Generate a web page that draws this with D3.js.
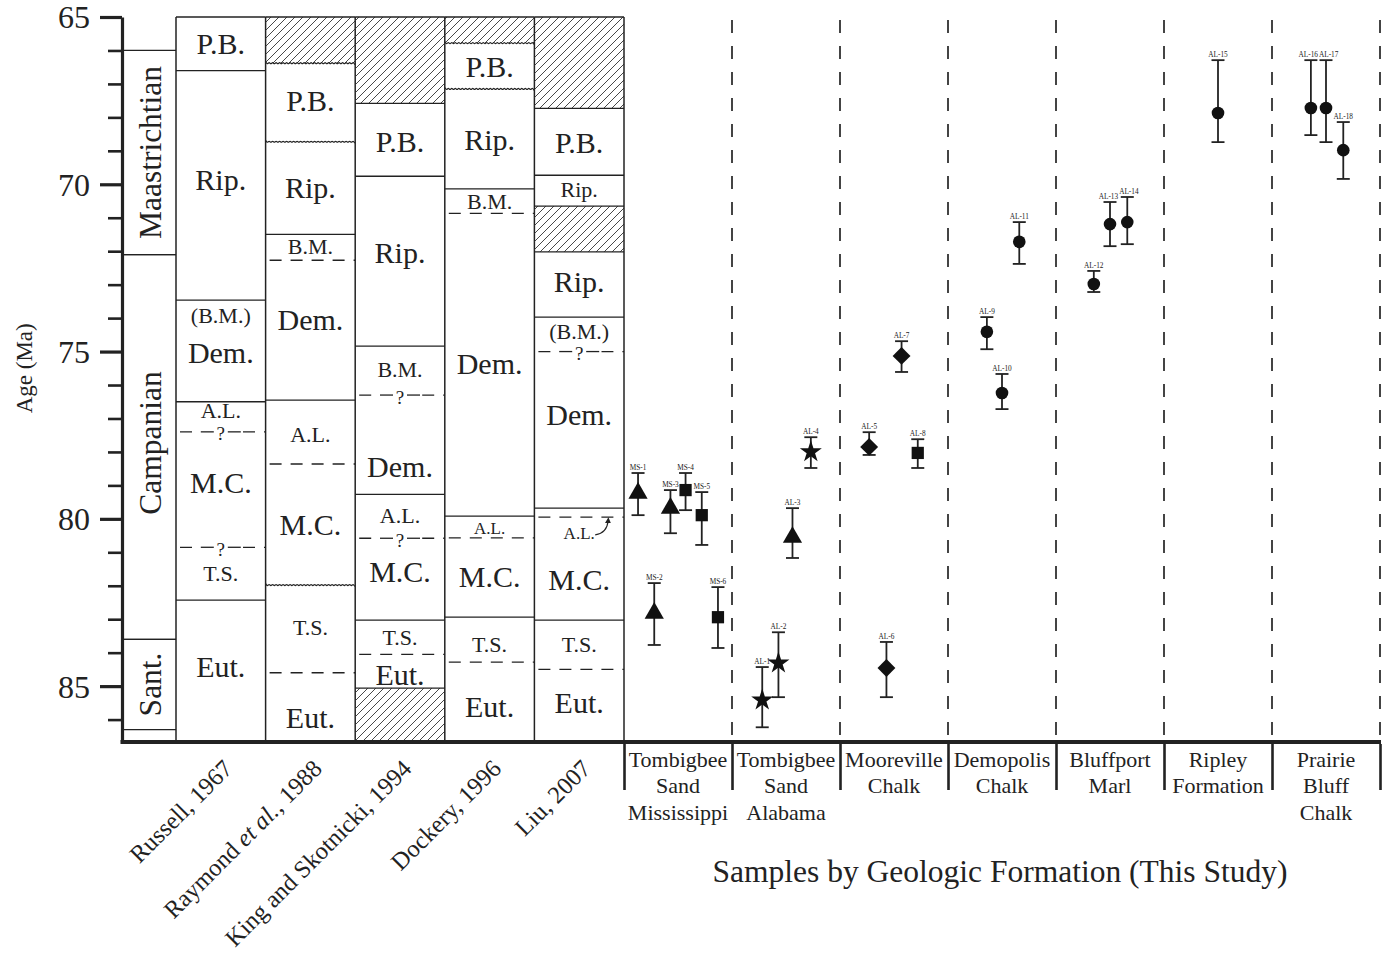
<!DOCTYPE html>
<html><head><meta charset="utf-8">
<script src="https://cdn.jsdelivr.net/npm/d3@7"></script>
<style>
body{margin:0;background:#fff}
svg{display:block}
text{font-family:"Liberation Serif","Times New Roman",serif;fill:#222}
</style>
</head><body>
<svg id="chart" width="1388" height="955"></svg>
<script>
// ---------------- DATA ----------------
const ageTicks = d3.range(65, 87);
const majorTicks = [65, 70, 75, 80, 85];
const ageDomain = [65, 86.67];

const stageNames = ["Maastrichtian", "Campanian", "Sant."];
const stageTops  = [66.0, 72.1, 83.6];
const stageBases = [72.1, 83.6, 86.3];

const references = ["Russell, 1967", "Raymond et al., 1988", "King and Skotnicki, 1994", "Dockery, 1996", "Liu, 2007"];

// contacts: [age, type]   labels: [text, age, rank]   hatch: [top, base]
const russellContacts = [[66.6,"solid"],[73.46,"solid"],[76.5,"solid"],[77.4,"query"],[80.85,"query"],[82.43,"solid"]];
const russellLabels = [["P.B.",65.81,1],["Rip.",69.87,1],["(B.M.)",73.91,2],["Dem.",75.04,1],["A.L.",76.76,2],["M.C.",78.93,1],["T.S.",81.62,2],["Eut.",84.43,1]];
const russellHatch = [];

const raymondContacts = [[66.38,"wavy"],[68.73,"wavy"],[71.5,"solid"],[72.27,"dashed"],[76.45,"solid"],[78.36,"dashed"],[81.98,"wavy"],[84.6,"dashed"]];
const raymondLabels = [["P.B.",67.51,1],["Rip.",70.11,1],["B.M.",71.87,2],["Dem.",74.06,1],["A.L.",77.49,2],["M.C.",80.18,1],["T.S.",83.26,2],["Eut.",85.95,1]];
const raymondHatch = [[65,66.38]];

const kingContacts = [[67.58,"solid"],[69.76,"solid"],[74.84,"solid"],[76.3,"query"],[79.27,"solid"],[80.58,"query"],[83.03,"solid"],[84.05,"dashed"],[85.06,"solid"]];
const kingLabels = [["P.B.",68.74,1],["Rip.",72.05,1],["B.M.",75.55,2],["Dem.",78.45,1],["A.L.",79.91,2],["M.C.",81.59,1],["T.S.",83.56,2],["Eut.",84.67,1]];
const kingHatch = [[65,67.58],[85.06,86.67]];

const dockeryContacts = [[65.78,"wavy"],[67.15,"wavy"],[70.14,"solid"],[70.87,"dashed"],[79.92,"solid"],[80.57,"dashed"],[82.94,"solid"],[84.28,"dashed"]];
const dockeryLabels = [["P.B.",66.49,1],["Rip.",68.68,1],["B.M.",70.53,2],["Dem.",75.37,1],["A.L.",80.27,3],["M.C.",81.74,1],["T.S.",83.77,2],["Eut.",85.62,1]];
const dockeryHatch = [[65,65.78]];

const liuContacts = [[67.73,"solid"],[69.73,"solid"],[70.65,"solid"],[72.02,"solid"],[73.97,"solid"],[75.0,"query"],[79.68,"solid"],[79.95,"dashed"],[83.03,"solid"],[84.5,"dashed"]];
const liuLabels = [["P.B.",68.77,1],["Rip.",70.17,2],["Rip.",72.92,1],["(B.M.)",74.41,2],["Dem.",76.9,1],["A.L.",80.42,3],["M.C.",81.83,1],["T.S.",83.77,2],["Eut.",85.5,1]];
const liuHatch = [[65,67.73],[70.65,72.02]];

const formations = [["Tombigbee","Sand","Mississippi"],["Tombigbee","Sand","Alabama"],["Mooreville","Chalk"],["Demopolis","Chalk"],["Bluffport","Marl"],["Ripley","Formation"],["Prairie","Bluff","Chalk"]];

const sampleIds = ["MS-1","MS-2","MS-3","MS-4","MS-5","MS-6","AL-1","AL-2","AL-3","AL-4","AL-5","AL-6","AL-7","AL-8","AL-9","AL-10","AL-11","AL-12","AL-13","AL-14","AL-15","AL-16","AL-17","AL-18"];
const sampleFormation = [0,0,0,0,0,0,1,1,1,1,2,2,2,2,3,3,3,4,4,4,5,6,6,6];
const samplePosition  = [0.13,0.28,0.43,0.57,0.72,0.87, 0.28,0.43,0.56,0.73, 0.27,0.43,0.57,0.72, 0.36,0.5,0.66, 0.35,0.5,0.66, 0.5, 0.36,0.5,0.66];
const sampleAge = [79.23,82.82,79.68,79.14,79.89,82.94, 85.42,84.31,80.55,78.0, 77.85,84.46,75.13,78.03, 74.41,76.24,71.72, 72.98,71.19,71.13, 67.87, 67.72,67.72,68.98];
const sampleAgeMin = [78.63,81.92,79.14,78.63,79.2,82.04, 84.43,83.39,79.68,77.56, 77.41,83.68,74.69,77.62, 73.97,75.67,71.13, 72.59,70.53,70.38, 66.29, 66.29,66.29,68.14];
const sampleAgeMax = [79.89,83.77,80.43,79.74,80.78,83.86, 86.23,85.33,81.17,78.48, 78.09,85.33,75.61,78.48, 74.93,76.72,72.38, 73.22,71.85,71.79, 68.74, 68.53,68.74,69.84];
const sampleShape = ["triangle","triangle","triangle","square","square","square","star","star","triangle","star","diamond","diamond","diamond","square","circle","circle","circle","circle","circle","circle","circle","circle","circle","circle"];

// ---------------- DRAW ----------------
const svg = d3.select("#chart");
const ink = "#222";
const y = d3.scaleLinear().domain(ageDomain).range([17, 742]);
const xRef = d3.scaleBand().domain(references).range([176, 624]);
const xF = d3.scaleLinear().domain([0, formations.length]).range([624, 1380]);
const stageX0 = 122, stageX1 = 176;

const defs = svg.append("defs");
const pat = defs.append("pattern").attr("id","hatch").attr("patternUnits","userSpaceOnUse")
  .attr("width",8).attr("height",8);
pat.append("path").attr("d","M-2,2 l4,-4 M0,8 l8,-8 M6,10 l4,-4")
  .attr("stroke","#333").attr("stroke-width",0.9);
defs.append("marker").attr("id","arr").attr("viewBox","0 0 10 10").attr("refX",5).attr("refY",5)
  .attr("markerWidth",5).attr("markerHeight",5).attr("orient","auto")
  .append("path").attr("d","M0,0 L10,5 L0,10 z").attr("fill",ink);

// stage column
const stg = svg.append("g");
stageNames.forEach((n,i)=>{
  [stageTops[i], stageBases[i]].forEach(a=>{
    stg.append("line").attr("x1",stageX0).attr("x2",stageX1).attr("y1",y(a)).attr("y2",y(a))
      .attr("stroke",ink).attr("stroke-width",1.3);
  });
  const mid = (stageTops[i]+stageBases[i])/2;
  stg.append("text").attr("transform",`translate(${(stageX0+stageX1)/2+2},${y(mid)-(i===1?4:0)}) rotate(-90)`)
    .attr("text-anchor","middle").attr("dy","0.32em").style("font-size","31.5px").text(n);
});
stg.append("line").attr("x1",stageX1).attr("x2",stageX1).attr("y1",y(65)).attr("y2",y(ageDomain[1]))
  .attr("stroke",ink).attr("stroke-width",1.5);

// reference columns
const refData = [
  [russellContacts, russellLabels, russellHatch],
  [raymondContacts, raymondLabels, raymondHatch],
  [kingContacts, kingLabels, kingHatch],
  [dockeryContacts, dockeryLabels, dockeryHatch],
  [liuContacts, liuLabels, liuHatch]
];
const bw = xRef.bandwidth();
const labelSize = {1:"30px", 2:"22px", 3:"17px"};
const wavyLine = d3.line().curve(d3.curveBasis);

references.forEach((r,i)=>{
  const [contacts, labels, hatch] = refData[i];
  const x0 = xRef(r), x1 = x0 + bw, cx = x0 + bw/2;
  const g = svg.append("g");
  hatch.forEach(h=>{
    g.append("rect").attr("x",x0).attr("y",y(h[0])).attr("width",bw).attr("height",y(h[1])-y(h[0]))
      .attr("fill","url(#hatch)");
  });
  contacts.forEach(([a,type])=>{
    const yy = y(a);
    if (type==="solid"){
      g.append("line").attr("x1",x0).attr("x2",x1).attr("y1",yy).attr("y2",yy).attr("stroke",ink).attr("stroke-width",1.3);
    } else if (type==="wavy"){
      const pts = d3.range(x0, x1+0.1, 1.75).map((x,k)=>[x, yy + (k%2===0?-1.4:1.4)]);
      g.append("path").attr("d",wavyLine(pts)).attr("fill","none").attr("stroke",ink).attr("stroke-width",1.2);
    } else {
      g.append("line").attr("x1",x0).attr("x2",x1).attr("y1",yy).attr("y2",yy).attr("stroke",ink)
        .attr("stroke-width",1.3).attr("stroke-dasharray","12,9").attr("stroke-dashoffset",-4);
      if (type==="query"){
        g.append("rect").attr("x",cx-22).attr("y",yy-3).attr("width",44).attr("height",6).attr("fill","#fff");
        g.append("line").attr("x1",cx-20).attr("x2",cx-7).attr("y1",yy).attr("y2",yy).attr("stroke",ink).attr("stroke-width",1.3);
        g.append("line").attr("x1",cx+7).attr("x2",cx+20).attr("y1",yy).attr("y2",yy).attr("stroke",ink).attr("stroke-width",1.3);
        g.append("text").attr("x",cx).attr("y",yy).attr("dy","0.45em").attr("text-anchor","middle")
          .style("font-size","19px").text("?");
      }
    }
  });
  labels.forEach(([t,a,rank])=>{
    g.append("text").attr("x",cx).attr("y",y(a)).attr("dy","0.34em").attr("text-anchor","middle")
      .style("font-size",labelSize[rank]).text(t);
  });
  // column frame
  g.append("line").attr("x1",x0).attr("x2",x1).attr("y1",y(65)).attr("y2",y(65)).attr("stroke",ink).attr("stroke-width",1.5);
  g.append("line").attr("x1",x1).attr("x2",x1).attr("y1",y(65)).attr("y2",y(ageDomain[1])).attr("stroke",ink).attr("stroke-width",1.5);
  if (i===references.length-1){
    // arrow next to A.L. in Liu
    const al = labels.find(d=>d[0]==="A.L.");
    const ya = y(al[1]), yt = y(contacts.find(d=>d[1]==="dashed")[0]);
    g.append("path").attr("d",`M${cx+16},${ya+2} Q${cx+28},${ya} ${cx+29},${yt+3}`)
      .attr("fill","none").attr("stroke",ink).attr("stroke-width",1.2).attr("marker-end","url(#arr)");
  }
  // reference label
  const lab = svg.append("text").attr("transform",`translate(${cx+13},${770}) rotate(-45)`)
    .attr("text-anchor","end").style("font-size","24.5px");
  if (r.includes("et al.")){
    lab.append("tspan").text("Raymond ");
    lab.append("tspan").style("font-style","italic").text("et al.");
    lab.append("tspan").text(", 1988");
  } else lab.text(r);
});

// vertical dashed separators in sample area
for (let i=1;i<=formations.length;i++){
  svg.append("line").attr("x1",xF(i)).attr("x2",xF(i)).attr("y1",20).attr("y2",y(ageDomain[1]))
    .attr("stroke","#444").attr("stroke-width",2).attr("stroke-dasharray","13,13");
}

// left axis
const axG = svg.append("g").attr("transform",`translate(${stageX0},0)`);
axG.call(d3.axisLeft(y).tickValues(ageTicks.filter(t=>!majorTicks.includes(t))).tickSize(14).tickFormat("").tickSizeOuter(0));
axG.call(g=>g.selectAll(".tick line").attr("stroke",ink).attr("stroke-width",2.6));
axG.select(".domain").attr("stroke",ink).attr("stroke-width",3.2);
const axM = svg.append("g").attr("transform",`translate(${stageX0},0)`);
axM.call(d3.axisLeft(y).tickValues(majorTicks).tickSize(22).tickPadding(10).tickSizeOuter(0));
axM.select(".domain").remove();
axM.selectAll(".tick line").attr("stroke",ink).attr("stroke-width",3.2);
axM.selectAll(".tick text").style("font-family","'Liberation Serif',serif").style("font-size","32px").attr("fill",ink)
  .attr("dy","0.34em");

svg.append("text").attr("transform",`translate(24,${y(75.5)}) rotate(-90)`).attr("text-anchor","middle")
  .attr("dy","0.35em").style("font-size","23px").text("Age (Ma)");

// bottom axis line
svg.append("line").attr("x1",stageX0-1.5).attr("x2",xF(formations.length)+1).attr("y1",y(ageDomain[1])).attr("y2",y(ageDomain[1]))
  .attr("stroke",ink).attr("stroke-width",4);
const bx = svg.append("g").attr("transform",`translate(0,${y(ageDomain[1])+2})`);
bx.call(d3.axisBottom(xF).tickValues(d3.range(0, formations.length+1)).tickSize(46).tickFormat(""));
bx.select(".domain").remove();
bx.selectAll(".tick line").attr("stroke",ink).attr("stroke-width",2.6);

// formation labels
formations.forEach((lines,i)=>{
  const t = svg.append("text").attr("x",xF(i+0.5)).attr("y",767).attr("text-anchor","middle").style("font-size","22px");
  lines.forEach((l,k)=>t.append("tspan").attr("x",xF(i+0.5)).attr("dy",k===0?0:"1.2em").text(l));
});
svg.append("text").attr("x",xF(3.5)-2).attr("y",882).attr("text-anchor","middle").style("font-size","31.5px")
  .text("Samples by Geologic Formation (This Study)");

// samples
const symType = {triangle:d3.symbolTriangle, square:d3.symbolSquare, star:d3.symbolStar, diamond:d3.symbolSquare, circle:d3.symbolCircle};
const symSize = {triangle:160, square:150, star:150, diamond:160, circle:125};
const capW = 13;
const sg = svg.append("g");
const idLabels = [];
sampleIds.forEach((id,i)=>{
  const cx = xF(sampleFormation[i] + samplePosition[i]);
  const yTop = y(sampleAgeMin[i]), yBot = y(sampleAgeMax[i]), yc = y(sampleAge[i]);
  sg.append("line").attr("x1",cx).attr("x2",cx).attr("y1",yTop).attr("y2",yBot).attr("stroke",ink).attr("stroke-width",1.8);
  [yTop,yBot].forEach(v=>sg.append("line").attr("x1",cx-capW/2).attr("x2",cx+capW/2).attr("y1",v).attr("y2",v)
    .attr("stroke",ink).attr("stroke-width",1.8));
  const shp = sampleShape[i];
  sg.append("path").attr("d",d3.symbol().type(symType[shp]).size(symSize[shp])())
    .attr("transform",`translate(${cx},${yc})${shp==="diamond"?" rotate(45)":""}`)
    .attr("fill","#111");
  const t = sg.append("text").attr("x",cx).attr("y",yTop-3).attr("text-anchor","middle")
    .style("font-size","7.3px").attr("fill","#333").text(id);
  idLabels.push({t, cx, y:yTop-3, f:sampleFormation[i]});
});
// nudge neighbouring id labels apart when they would touch
for (let k=1;k<idLabels.length;k++){
  const a = idLabels[k-1], b = idLabels[k];
  if (a.f===b.f && Math.abs(a.y-b.y)<6){
    const wa = a.t.node().getComputedTextLength(), wb = b.t.node().getComputedTextLength();
    const gap = (b.cx - wb/2) - (a.cx + wa/2);
    if (gap < 1){
      const s = (1 - gap)/2;
      a.t.attr("x", a.cx - s); b.t.attr("x", b.cx + s);
    }
  }
}
</script>
</body></html>
